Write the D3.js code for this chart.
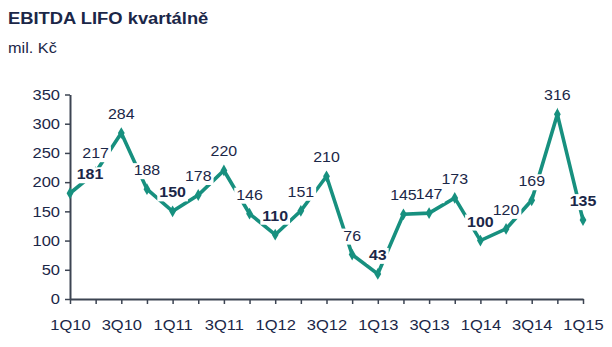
<!DOCTYPE html>
<html><head><meta charset="utf-8">
<script src="https://cdn.jsdelivr.net/npm/d3@7"></script>
<style>body{margin:0;background:#fff}svg{display:block}text{font-family:"Liberation Sans",Arial,sans-serif}</style>
</head><body><svg id="c" width="612" height="347"></svg>
<script>
const quarters = ["1Q10","2Q10","3Q10","4Q10","1Q11","2Q11","3Q11","4Q11","1Q12","2Q12","3Q12","4Q12","1Q13","2Q13","3Q13","4Q13","1Q14","2Q14","3Q14","4Q14","1Q15"];
const values = [181,217,284,188,150,178,220,146,110,151,210,76,43,145,147,173,100,120,169,316,135];
const yTicks = [0,50,100,150,200,250,300,350];
const title = "EBITDA LIFO kvartálně";
const unit = "mil. Kč";

const SX = 1.1;
const teal = "#17907f", navy = "#1b2748", axisCol = "#3c4452";
const svg = d3.select("#c");
const x = d3.scalePoint().domain(quarters).range([70, 583]);
const y = d3.scaleLinear().domain([0, 350]).range([299, 94.5]);

function stretch(sel){
  sel.each(function(){
    const t = d3.select(this);
    const xv = +(t.attr("x") || 0);
    t.attr("x", xv / SX).attr("transform", `scale(${SX},1)`);
  });
}

svg.append("text").attr("x", 8/SX).attr("y", 24).attr("transform", `scale(${SX},1)`)
  .attr("font-size", 16.7).attr("font-weight", "bold").attr("fill", navy).text(title);
svg.append("text").attr("x", 8/SX).attr("y", 53).attr("transform", `scale(${SX},1)`)
  .attr("font-size", 14.8).attr("fill", navy).text(unit);

// axes
const gy = svg.append("g").attr("transform", "translate(70,0)")
  .call(d3.axisLeft(y).tickValues(yTicks).tickSize(5).tickPadding(5).tickSizeOuter(0));
const gx = svg.append("g").attr("transform", "translate(0,299)")
  .call(d3.axisBottom(x).tickSize(5).tickPadding(15).tickSizeOuter(0)
    .tickFormat((d, i) => i % 2 === 0 ? d : ""));
[gx, gy].forEach(g => {
  g.select(".domain").attr("stroke", axisCol).attr("stroke-width", 2);
  g.selectAll(".tick line").attr("stroke", axisCol).attr("stroke-width", 1.5);
  g.selectAll(".tick text").attr("font-size", 15).attr("fill", navy)
    .attr("font-family", '"Liberation Sans",Arial,sans-serif').call(stretch);
});

// line
const data = quarters.map((q, i) => ({q, v: values[i], i}));
svg.append("path").datum(data)
  .attr("d", d3.line().x(d => x(d.q)).y(d => y(d.v)))
  .attr("fill", "none").attr("stroke", teal).attr("stroke-width", 3.6).attr("stroke-linejoin", "miter");
svg.selectAll("path.mk").data(data).join("path").attr("class", "mk")
  .attr("d", d3.symbol(d3.symbolDiamond, 40))
  .attr("transform", d => `translate(${x(d.q)},${y(d.v)})`)
  .attr("fill", teal);

// labels with white backgrounds
const lg = svg.append("g");
data.forEach(d => {
  const bold = d.q.startsWith("1Q");
  const cx = x(d.q) + (d.i === 0 ? 20 : 0);
  const by = y(d.v) - 14;
  const t = lg.append("text").attr("text-anchor", "middle")
    .attr("x", cx / SX).attr("y", by).attr("transform", `scale(${SX},1)`)
    .attr("font-size", 14.5).attr("font-weight", bold ? "bold" : "normal")
    .attr("fill", navy).text(d.v);
  const w = t.node().getComputedTextLength() * SX;
  lg.insert("rect", "text").attr("x", cx - w/2 - 2).attr("y", by - 12).attr("width", w + 4).attr("height", 16)
    .attr("fill", "#fff");
});
// move rects before texts (keep text on top)
lg.selectAll("rect").lower();
</script></body></html>
